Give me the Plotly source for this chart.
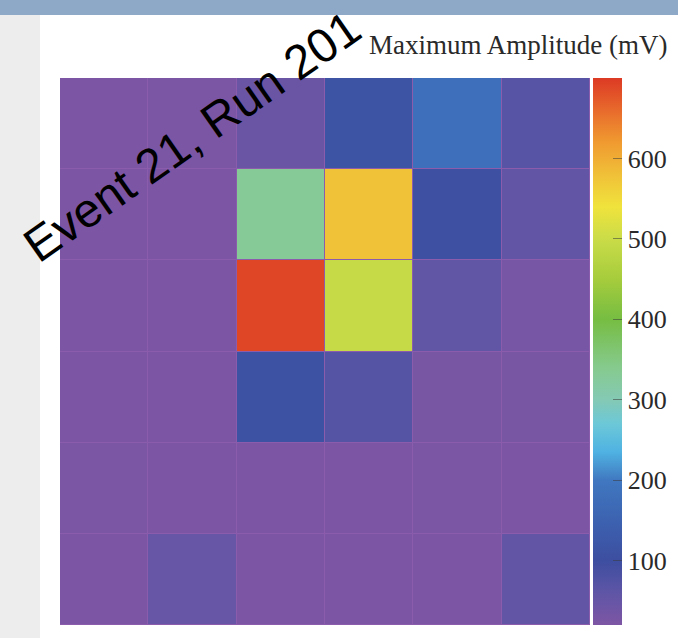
import plotly.graph_objects as go

# 6x6 detector channels, maximum amplitude per channel (mV); first row is the top row
columns = [0, 1, 2, 3, 4, 5]
rows = [0, 1, 2, 3, 4, 5]
amp_row0 = [22, 24, 45, 115, 180, 70]
amp_row1 = [22, 22, 330, 578, 105, 55]
amp_row2 = [22, 22, 690, 495, 58, 30]
amp_row3 = [22, 22, 110, 72, 26, 26]
amp_row4 = [23, 22, 22, 22, 23, 22]
amp_row5 = [22, 50, 22, 22, 22, 55]
amplitudes = [amp_row0, amp_row1, amp_row2, amp_row3, amp_row4, amp_row5]

z_min, z_max = 20, 700
colorbar_ticks = [100, 200, 300, 400, 500, 600]

# rainbow palette stops (value in mV, colour)
palette_stops = [
    (20, "#7d56a4"), (60, "#5f55a6"), (100, "#3d4ea0"), (150, "#3c62b0"),
    (200, "#4078c0"), (235, "#4fb2e2"), (270, "#6cc8d8"), (300, "#84c9b4"),
    (340, "#86ca8e"), (400, "#76bd42"), (450, "#a6cc3c"), (500, "#cadc48"),
    (540, "#f0e33c"), (580, "#f0c038"), (620, "#f09a30"), (660, "#e86a2c"),
    (700, "#dc3a24"),
]
colorscale = [[(v - z_min) / (z_max - z_min), c] for v, c in palette_stops]

W, H = 678, 638
L, R, T, B = 60, 590, 78, 625   # plot area in pixels


def px(x):
    return (x - L) / (R - L)


def py(y):
    return (B - y) / (B - T)


fig = go.Figure(
    go.Heatmap(
        z=amplitudes, x=columns, y=rows,
        zmin=z_min, zmax=z_max, colorscale=colorscale,
        xgap=1, ygap=1,
        colorbar=dict(
            x=px(593), xanchor="left", xpad=0,
            y=0.5, yanchor="middle", ypad=0,
            len=1, lenmode="fraction", thickness=29,
            outlinewidth=0,
            tickvals=colorbar_ticks, ticks="inside", ticklen=9,
            tickcolor="rgba(60,60,60,0.55)", tickwidth=1,
            tickfont=dict(family="Liberation Serif", size=26, color="#2a2a2a"),
        ),
        hoverinfo="skip",
    )
)

fig.update_layout(
    width=W, height=H,
    margin=dict(l=L, r=W - R, t=T, b=H - B, autoexpand=False),
    paper_bgcolor="white",
    plot_bgcolor="#8a5cab",
    xaxis=dict(visible=False, range=[-0.5, 5.5], fixedrange=True),
    yaxis=dict(visible=False, range=[5.5, -0.5], fixedrange=True),
    shapes=[
        # page header band
        dict(type="rect", xref="paper", yref="paper", layer="below",
             x0=px(0), x1=px(W), y0=py(0), y1=py(15),
             fillcolor="#8ea8c8", line=dict(width=0)),
        # grey side strip
        dict(type="rect", xref="paper", yref="paper", layer="below",
             x0=px(0), x1=px(40), y0=py(15), y1=py(H),
             fillcolor="#ededed", line=dict(width=0)),
    ],
    annotations=[
        dict(text="Maximum Amplitude (mV)", xref="paper", yref="paper",
             x=px(669), y=py(45), xanchor="right", yanchor="middle",
             showarrow=False,
             font=dict(family="Liberation Serif", size=27, color="#2a2a2a")),
        dict(text="Event 21, Run 201", xref="paper", yref="paper",
             x=px(192), y=py(136), xanchor="center", yanchor="middle",
             textangle=-35, showarrow=False, borderpad=0,
             font=dict(family="Liberation Sans", size=48, color="black")),
    ],
)

fig.write_html("out.html")
